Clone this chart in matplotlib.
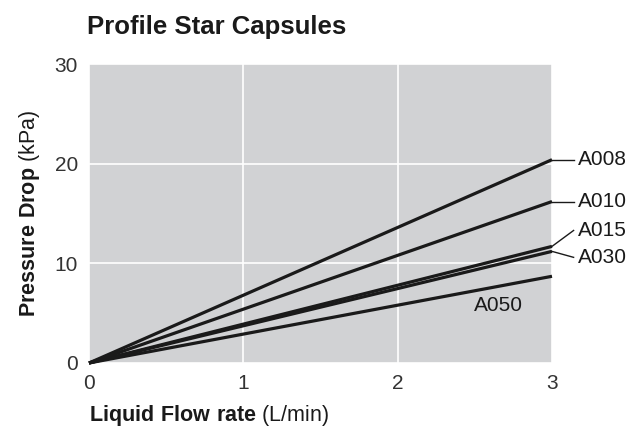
import numpy as np
import matplotlib.pyplot as plt

plt.rcParams['font.family'] = ['Liberation Sans', 'DejaVu Sans']
plt.rcParams['mathtext.fontset'] = 'custom'
plt.rcParams['mathtext.rm'] = 'Liberation Sans'
plt.rcParams['mathtext.bf'] = 'Liberation Sans:bold'

# data (pressure drop at 3 L/min, lines from origin)
flow = [0, 3]
names = ["A008", "A010", "A015", "A030", "A050"]
drop_at_3 = [20.4, 16.2, 11.7, 11.2, 8.7]

fig = plt.figure(figsize=(6.39, 4.32), dpi=100)
ax = fig.add_axes([89 / 639, 1 - 363 / 432, (552 - 89) / 639, (363 - 64) / 432])
ax.set_facecolor("#d1d2d4")
for s in ax.spines.values():
    s.set_visible(False)
ax.grid(True, color="white", lw=1.2)
ax.set_axisbelow(True)

for name, y in zip(names, drop_at_3):
    ax.plot(flow, [0, y], color="#1a1a1a", lw=2.3, solid_capstyle="butt", clip_on=False)

ax.set_xlim(0, 3)
ax.set_ylim(0, 30)
ax.set_xticks([0, 1, 2, 3])
ax.set_yticks([0, 10, 20, 30])
ax.tick_params(length=0, labelsize=15, labelcolor="#333333", pad=8)

# labels on the right with leader lines
lab_y = {"A008": 20.4, "A010": 16.2, "A015": 13.3, "A030": 10.6}
for name, y in zip(names, drop_at_3):
    if name in lab_y:
        ty = lab_y[name]
        ax.plot([3, 3.14], [y, ty], color="#1a1a1a", lw=1, clip_on=False)
        ax.text(3.17, ty, name, fontsize=15, va="center", ha="left", color="#1a1a1a")
ax.text(2.65, 5.8, "A050", fontsize=15, va="center", ha="center", color="#1a1a1a")

ax.set_xlabel(r"$\mathbf{Liquid\ Flow\ rate}$ (L/min)", fontsize=15.5, loc="left",
              labelpad=7, color="#1a1a1a")
ax.set_ylabel(r"$\mathbf{Pressure\ Drop}$ (kPa)", fontsize=15.5, labelpad=9,
              color="#1a1a1a")
fig.text(87 / 639, 1 - 27 / 432, "Profile Star Capsules", fontsize=18.5,
         fontweight="bold", va="center", ha="left", color="#1a1a1a")

plt.savefig("out.png", dpi=100)
